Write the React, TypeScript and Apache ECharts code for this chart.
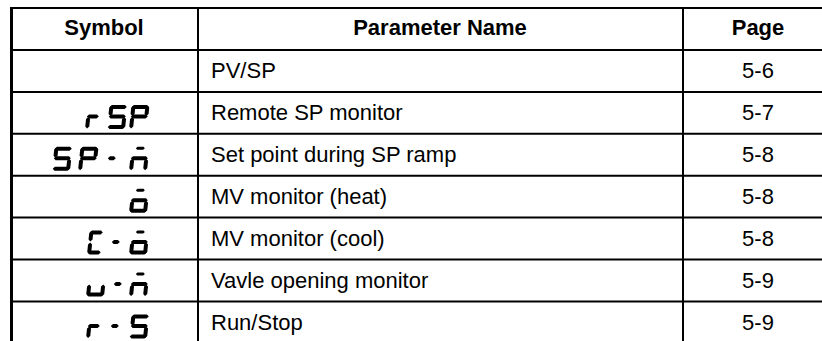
import React, { useEffect, useRef } from "react";
import * as echarts from "echarts";

// ---- data ----
const headers = ["Symbol", "Parameter Name", "Page"];
// LCD symbols: 'm' = n with overline, 'o' = o with overline
const symbols = ["", "r5P", "5P-m", "o", "C-o", "u-m", "r-5"];
const parameterNames = [
  "PV/SP",
  "Remote SP monitor",
  "Set point during SP ramp",
  "MV monitor (heat)",
  "MV monitor (cool)",
  "Vavle opening monitor",
  "Run/Stop",
];
const pages = ["5-6", "5-7", "5-8", "5-8", "5-8", "5-9", "5-9"];

// ---- layout ----
const WIDTH = 822;
const HEIGHT = 341;
const TABLE_LEFT = 10;
const TABLE_TOP = 7;
const COL1_X = 197; // separator between Symbol and Parameter Name
const COL2_X = 682; // separator between Parameter Name and Page
const HEADER_BOTTOM = 50;
const ROW_H = 41.9;
const FONT = '"Liberation Sans", Arial, Helvetica, sans-serif';
const FONT_SIZE = 22;
// left x of each glyph cell for each symbol row
const glyphX: number[][] = [
  [],
  [85, 107, 129],
  [52, 78, 106, 129],
  [129],
  [87, 110, 129],
  [86, 112, 129],
  [86, 109, 129],
];

// ---- seven-segment glyph drawing ----
const GH = 24;
const GT = 4;
const GMID = 11.5;
const SLANT = 2.5;
const GAP = 0.5;

type Pt = [number, number];
function hSeg(x0: number, x1: number, cy: number, t: number): Pt[] {
  x0 += GAP;
  x1 -= GAP;
  return [
    [x0, cy],
    [x0 + t / 2, cy - t / 2],
    [x1 - t / 2, cy - t / 2],
    [x1, cy],
    [x1 - t / 2, cy + t / 2],
    [x0 + t / 2, cy + t / 2],
  ];
}
function vSeg(cx: number, y0: number, y1: number, t: number): Pt[] {
  y0 += GAP;
  y1 -= GAP;
  return [
    [cx, y0],
    [cx + t / 2, y0 + t / 2],
    [cx + t / 2, y1 - t / 2],
    [cx, y1],
    [cx - t / 2, y1 - t / 2],
    [cx - t / 2, y0 + t / 2],
  ];
}
function segs(w: number, list: string): Pt[][] {
  const m: Record<string, Pt[]> = {
    a: hSeg(0, w, GT / 2, GT),
    b: vSeg(w - GT / 2, 0, GMID, GT),
    c: vSeg(w - GT / 2, GMID, GH, GT),
    d: hSeg(0, w, GH - GT / 2, GT),
    e: vSeg(GT / 2, GMID, GH, GT),
    f: vSeg(GT / 2, 0, GMID, GT),
    g: hSeg(0, w, GMID, GT),
    h: hSeg(w / 2 - 5, w / 2 + 5, 1.5, 3),
  };
  return list.split("").map((k) => m[k]);
}
function glyph(ch: string): Pt[][] {
  switch (ch) {
    case "5":
      return segs(18, "afgcd");
    case "P":
      return segs(18, "abfge");
    case "r":
      return segs(13, "eg");
    case "C":
      return segs(14, "afed");
    case "u":
      return segs(18, "ecd");
    case "m":
      return segs(18, "hgec");
    case "o":
      return segs(18, "hgecd");
    case "-":
      return segs(9, "g");
    default:
      return [];
  }
}

function buildGraphic() {
  const els: any[] = [];
  const rowTop = (i: number) => HEADER_BOTTOM + ROW_H * i;
  els.push({ type: "rect", shape: { x: 0, y: 0, width: WIDTH, height: HEIGHT }, style: { fill: "#ffffff" }, silent: true });
  // horizontal lines
  els.push({ type: "rect", shape: { x: TABLE_LEFT, y: TABLE_TOP, width: WIDTH - TABLE_LEFT, height: 2 }, style: { fill: "#000" } });
  for (let i = 0; i < parameterNames.length; i++) {
    const y = rowTop(i);
    els.push({ type: "rect", shape: { x: TABLE_LEFT, y: y - 1, width: WIDTH - TABLE_LEFT, height: 2 }, style: { fill: "#000" } });
  }
  // vertical lines
  els.push({ type: "rect", shape: { x: TABLE_LEFT, y: TABLE_TOP, width: 3, height: HEIGHT - TABLE_TOP }, style: { fill: "#000" } });
  els.push({ type: "rect", shape: { x: COL1_X, y: TABLE_TOP, width: 2, height: HEIGHT - TABLE_TOP }, style: { fill: "#000" } });
  els.push({ type: "rect", shape: { x: COL2_X, y: TABLE_TOP, width: 2, height: HEIGHT - TABLE_TOP }, style: { fill: "#000" } });

  const colCenters = [104, 440, 758];
  const headerY = (TABLE_TOP + HEADER_BOTTOM) / 2 - 1;
  headers.forEach((h, i) => {
    els.push({
      type: "text",
      x: colCenters[i],
      y: headerY,
      style: {
        text: h,
        fill: "#000",
        fontFamily: FONT,
        fontSize: FONT_SIZE,
        fontWeight: "bold",
        align: "center",
        verticalAlign: "middle",
        textAlign: "center",
        textVerticalAlign: "middle",
      },
    });
  });

  parameterNames.forEach((name, i) => {
    const cy = rowTop(i) + ROW_H / 2;
    els.push({
      type: "text",
      x: 211,
      y: cy,
      style: {
        text: name,
        fill: "#000",
        fontFamily: FONT,
        fontSize: FONT_SIZE,
        align: "left",
        verticalAlign: "middle",
        textAlign: "left",
        textVerticalAlign: "middle",
      },
    });
    els.push({
      type: "text",
      x: colCenters[2],
      y: cy,
      style: {
        text: pages[i],
        fill: "#000",
        fontFamily: FONT,
        fontSize: FONT_SIZE,
        align: "center",
        verticalAlign: "middle",
        textAlign: "center",
        textVerticalAlign: "middle",
      },
    });
    const sym = symbols[i];
    const top = rowTop(i) + 13;
    sym.split("").forEach((ch, k) => {
      const ox = glyphX[i][k];
      glyph(ch).forEach((poly) => {
        const pts = poly.map(([px, py]) => [ox + px + (SLANT * (GH - py)) / GH, top + py]);
        els.push({ type: "polygon", shape: { points: pts }, style: { fill: "#000" } });
      });
    });
  });
  return els;
}

export default function App() {
  const ref = useRef<HTMLDivElement>(null);
  useEffect(() => {
    if (!ref.current) return;
    const chart = echarts.init(ref.current, null, { renderer: "svg" });
    chart.setOption({
      animation: false,
      backgroundColor: "#ffffff",
      graphic: { elements: buildGraphic() },
    });
    return () => chart.dispose();
  }, []);
  return (
    <div
      ref={ref}
      style={{ position: "fixed", left: 0, top: 0, width: WIDTH, height: HEIGHT, background: "#fff" }}
    />
  );
}
